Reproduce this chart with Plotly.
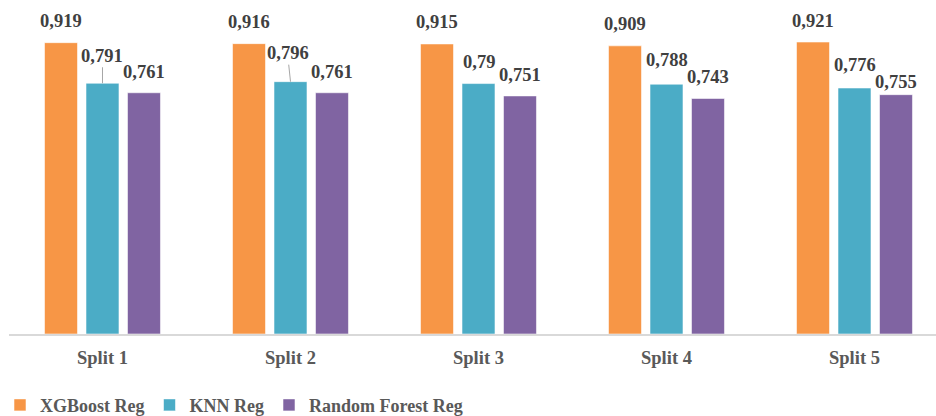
import plotly.graph_objects as go

# Data
splits = ["Split 1", "Split 2", "Split 3", "Split 4", "Split 5"]
models = ["XGBoost Reg", "KNN Reg", "Random Forest Reg"]
xgboost_vals = [0.919, 0.916, 0.915, 0.909, 0.921]
knn_vals = [0.791, 0.796, 0.790, 0.788, 0.776]
rf_vals = [0.761, 0.761, 0.751, 0.743, 0.755]

# Styling
colors = ["#F79646", "#4BACC6", "#8064A2"]
FONT = "Liberation Serif, Times New Roman, serif"
# pixel lift of each value label above its bar top (label centre)
label_lift = [
    [21.5, 21.5, 22, 21.5, 21],
    [27.5, 28.5, 22, 24, 23],
    [20.5, 20.5, 21, 21.5, 13],
]
# labels that are tied to their bar with a short leader line
leader = [
    [False] * 5,
    [True, True, False, False, False],
    [False] * 5,
]
label_dx = [
    [0, 0, 0, 0, 0],
    [0, -3, 0, 0, 0],
    [0, 0, 0, 0, 0],
]

series = [xgboost_vals, knn_vals, rf_vals]

fig = go.Figure()
for name, vals, col in zip(models, series, colors):
    fig.add_trace(go.Bar(
        x=splits, y=vals, name=name,
        marker=dict(color=col, line=dict(color="rgba(255,255,255,0.55)", width=1)),
        hoverinfo="skip",
    ))

# value labels (comma decimal separator)
n = len(models)
bargap, bargroupgap = 0.338, 0.205
slot = (1 - bargap) / n
for s, vals in enumerate(series):
    offset = (s - (n - 1) / 2) * slot
    for i, v in enumerate(vals):
        txt = ("%g" % v).replace(".", ",")
        fig.add_annotation(
            x=i + offset, y=v, xref="x", yref="y",
            text=txt, showarrow=True,
            ax=label_dx[s][i], ay=-label_lift[s][i],
            arrowhead=0, arrowwidth=1, standoff=0,
            arrowcolor="#A6A6A6" if leader[s][i] else "rgba(0,0,0,0)",
            font=dict(family=FONT, size=18.5, color="#404040", weight="bold"),
        )

fig.update_layout(
    width=936, height=416,
    margin=dict(l=9, r=0, t=17, b=82),
    paper_bgcolor="white", plot_bgcolor="white",
    barmode="group", bargap=bargap, bargroupgap=bargroupgap,
    showlegend=True,
    legend=dict(
        orientation="h", x=0.0, xref="container", xanchor="left",
        y=0.026, yref="container", yanchor="middle",
        font=dict(family=FONT, size=18, color="#595959", weight="bold"),
        itemwidth=30, tracegroupgap=0,
    ),
    xaxis=dict(
        type="category", range=[-0.4973, 4.4335],
        showline=True, linecolor="#D9D9D9", linewidth=2,
        ticks="", showgrid=False, zeroline=False, ticklabelstandoff=6,
        tickfont=dict(family=FONT, size=18.5, color="#595959", weight="bold"),
    ),
    yaxis=dict(
        range=[0, 1], visible=False, showgrid=False, zeroline=False,
    ),
)

fig.write_html("out.html")
